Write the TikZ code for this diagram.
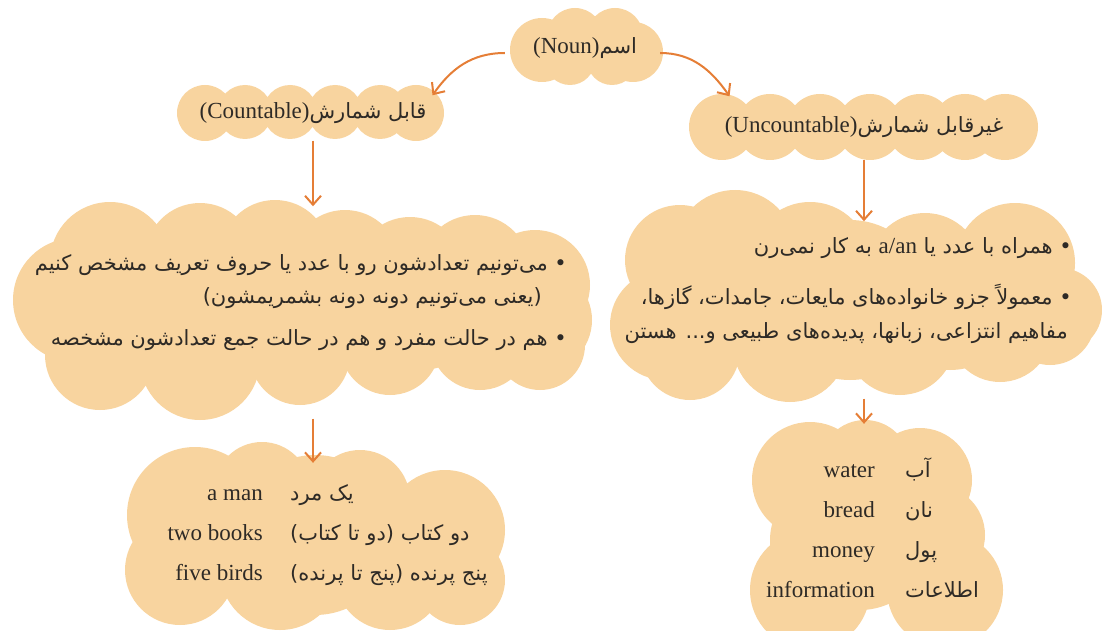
\documentclass[tikz,border=0pt]{standalone}
\usepackage{fontspec}
\setmainfont{Liberation Serif}
\newfontfamily\persian[Script=Arabic]{DejaVu Sans}
\TeXXeTstate=1
\usetikzlibrary{arrows.meta}
\definecolor{cloudfill}{HTML}{F8D49F}
\definecolor{arroworange}{HTML}{E57E36}
\definecolor{inkgray}{HTML}{2E2A26}
\def \fasize {\fontsize{21}{26}\selectfont}
\def \ensize {\fontsize{23}{26}\selectfont}
\newcommand{\fa}[1]{{\persian\fasize\beginR #1\endR}}
\tikzstyle{puff}=[fill=cloudfill]
\tikzstyle{txt}=[text=inkgray, font=\ensize, inner sep=0pt]
\tikzstyle{arr}=[arroworange, line width=2pt, -{Straight Barb[length=9pt, width=16pt]}]

\begin{document}
\begin{tikzpicture}[x=1pt, y=-1pt]
\useasboundingbox (0,0) rectangle (1102,631);

\foreach \cx/\cy/\rad in {542/50/32, 575/36/28, 615/36/28, 633/52/30, 570/60/25, 612/60/25}
    \fill[puff] (\cx,\cy) circle (\rad pt);

\foreach \cx/\cy/\rad in {205/113/28, 245/112/27, 290/112/27, 335/112/27, 380/112/27, 416/113/28}
    \fill[puff] (\cx,\cy) circle (\rad pt);

\foreach \cx/\cy/\rad in {722/127/33, 770/127/33, 820/127/33, 870/127/33, 920/127/33, 965/127/33, 1005/127/33}
    \fill[puff] (\cx,\cy) circle (\rad pt);

\foreach \cx/\cy/\rad in {110/262/60, 200/258/55, 275/255/55, 345/265/55, 410/272/55, 475/270/55, 535/285/55,
                          75/300/62, 540/320/52, 100/355/55, 200/360/60, 300/355/50, 390/345/50, 480/340/50,
                          540/345/45, 300/300/80, 200/300/80, 420/300/70}
    \fill[puff] (\cx,\cy) circle (\rad pt);

\foreach \cx/\cy/\rad in {735/250/60, 810/262/60, 925/270/57, 1015/263/60, 1060/310/42, 680/260/55,
                          665/325/55, 690/350/50, 790/345/57, 900/340/55, 1000/330/52, 1050/320/45,
                          850/300/80, 950/300/70, 760/300/70}
    \fill[puff] (\cx,\cy) circle (\rad pt);

\foreach \cx/\cy/\rad in {195/515/68, 262/490/48, 360/500/50, 445/530/60, 180/570/55, 280/570/60,
                          390/575/55, 460/580/45, 315/535/80}
    \fill[puff] (\cx,\cy) circle (\rad pt);

\foreach \cx/\cy/\rad in {810/480/58, 865/465/45, 920/480/52, 935/535/50, 945/590/58, 810/590/60,
                          860/540/70, 830/540/60}
    \fill[puff] (\cx,\cy) circle (\rad pt);

\node[txt] (noun) at (585,48) {(Noun)\fa{اسم}};
\node[txt] (countable) at (313,113) {(Countable)\fa{قابل شمارش}};
\node[txt] (uncountable) at (864,127) {(Uncountable)\fa{غیرقابل شمارش}};

\node[txt, anchor=east] (cd1) at (567,265) {\fa{• می‌تونیم تعدادشون رو با عدد یا حروف تعریف مشخص کنیم}};
\node[txt, anchor=east] (cd2) at (542,298) {\fa{(یعنی می‌تونیم دونه دونه بشمریمشون)}};
\node[txt, anchor=east] (cd3) at (567,340) {\fa{• هم در حالت مفرد و هم در حالت جمع تعدادشون مشخصه}};

\node[txt, anchor=east] (ud1) at (1072,248) {\fa{• همراه با عدد یا {\rmfamily\ensize a/an} به کار نمی‌رن}};
\node[txt, anchor=east] (ud2) at (1072,297) {\fa{• معمولاً جزو خانواده‌های مایعات، جامدات، گازها،}};
\node[txt, anchor=east] (ud3) at (1068,333) {\fa{مفاهیم انتزاعی، زبانها، پدیده‌های طبیعی و... هستن}};

\foreach \en/\fw [count=\k] in {a man/{یک مرد}, two books/{دو کتاب (دو تا کتاب)}, five birds/{پنج پرنده (پنج تا پرنده)}}
{
    \node[txt, anchor=base east] (cn\k) at (263,460+40*\k) {\en};
    \node[txt, anchor=base west] (cf\k) at (290,460+40*\k) {\fa{\fw}};
}

\foreach \en/\fw [count=\k] in {water/{آب}, bread/{نان}, money/{پول}, information/{اطلاعات}}
{
    \node[txt, anchor=base east] (un\k) at (875,437+40*\k) {\en};
    \node[txt, anchor=base west] (uf\k) at (905,437+40*\k) {\fa{\fw}};
}

\draw[arr] ([xshift=-28pt, yshift=-5pt]noun.west) to[out=180, in=55] ([xshift=6pt, yshift=7pt]countable.north east);
\draw[arr] ([xshift=23pt, yshift=-5pt]noun.east) to[out=0, in=125] ([xshift=5pt, yshift=20pt]uncountable.north west);
\draw[arr] ([yshift=-17pt]countable.south) -- ([yshift=48pt]cd1.north -| countable.south);
\draw[arr] ([yshift=-22pt]uncountable.south) -- ([yshift=16pt]ud1.north -| uncountable.south);
\draw[arr] ([yshift=-68pt]cd3.south -| countable.south) -- ([yshift=21pt]cf1.north -| countable.south);
\draw[arr] ([yshift=-55pt]ud3.south -| uncountable.south) -- ([yshift=40pt]un1.north -| uncountable.south);

\end{tikzpicture}
\end{document}
